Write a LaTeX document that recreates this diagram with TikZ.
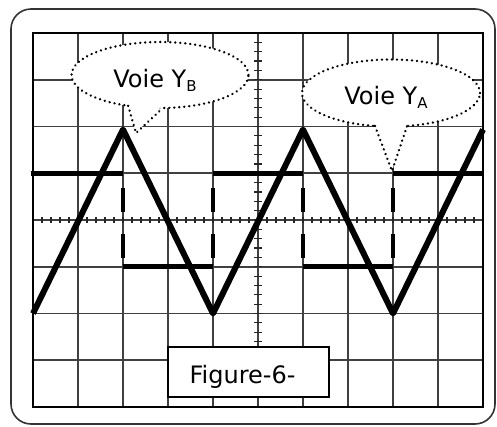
\documentclass[tikz,border=0pt]{standalone}
\usepackage{fontspec}
\setmainfont{DejaVu Sans}
\usetikzlibrary{shapes.geometric}
\begin{document}
\begin{tikzpicture}[x=1pt,y=-1pt,
  gridline/.style={line width=1.6pt, draw=black!75},
  axistick/.style={line width=1.2pt, draw=black!85},
  trace/.style={line width=6pt, line join=round},
  level/.style={line width=4.8pt},
  edgejump/.style={line width=4.8pt, dash pattern=on 24pt off 22pt, dash phase=31pt},
  bubble/.style={ellipse, draw, fill=white, line width=2.6pt, dash pattern=on 0.01pt off 5pt, line cap=round, inner sep=0pt, outer sep=0pt},
  tail/.style={draw, line width=2.6pt, dash pattern=on 0.01pt off 5pt, line cap=round},
  lbl/.style={font=\fontsize{24}{28}\selectfont, inner sep=0pt}]
\useasboundingbox (0,0) rectangle (497,426);
% outer frame
\draw[line width=1.6pt, black!80, rounded corners=20pt] (11,9) rectangle (495,424);
% grid
\foreach \i in {0,...,10} \draw[gridline] (33+45*\i,33) -- (33+45*\i,407);
\foreach \j in {0,...,8} \draw[gridline] (33,33+46.75*\j) -- (483,33+46.75*\j);
\draw[line width=2.2pt] (33,33) rectangle (483,407);
% axis ticks
\foreach \k in {1,...,49} \draw[axistick] (33+9*\k,217) -- (33+9*\k,223);
\foreach \k in {1,...,39} \draw[axistick] (254,33+9.35*\k) -- (262,33+9.35*\k);
% square wave (Voie YA)
\draw[level] (31,173.25) -- (123,173.25);
\draw[level] (123,266.75) -- (213,266.75);
\draw[level] (213,173.25) -- (303,173.25);
\draw[level] (303,266.75) -- (393,266.75);
\draw[level] (393,173.25) -- (483,173.25);
\foreach \x in {123,213,303,393} \draw[edgejump] (\x,173.25) -- (\x,266.75);
% triangle wave (Voie YB)
\draw[trace] (33,313.5) -- (123,129.5) -- (213,313.5) -- (303,129.5) -- (393,313.5) -- (483,129.5);
% bubble Voie YB
\node[bubble, minimum width=177pt, minimum height=66pt] (yb) at (160,75) {};
\coordinate (tipB) at (136,133);
\fill[white] ([yshift=3pt]yb.224) -- (tipB) -- ([yshift=3pt]yb.275) -- cycle;
\draw[tail] (yb.224) -- (tipB) -- (yb.275);
\node[lbl, anchor=base] (tyb) at (155,87) {Voie Y\raisebox{-4pt}{\fontsize{15}{15}\selectfont B}};
% bubble Voie YA
\node[bubble, minimum width=178pt, minimum height=67pt] (ya) at (391,93) {};
\coordinate (tipA) at (392,171);
\fill[white] ([yshift=3pt]ya.244) -- (tipA) -- ([yshift=3pt]ya.296) -- cycle;
\draw[tail] (ya.244) -- (tipA) -- (ya.296);
\node[lbl, anchor=base] (tya) at (386,104) {Voie Y\raisebox{-4pt}{\fontsize{15}{15}\selectfont A}};
% figure label
\node[draw, line width=2pt, fill=white, minimum width=161pt, minimum height=50pt, inner sep=0pt] (fig) at (248.5,372) {};
\node[lbl, anchor=base] (figtext) at (242.5,383) {Figure-6-};
\end{tikzpicture}
\end{document}
